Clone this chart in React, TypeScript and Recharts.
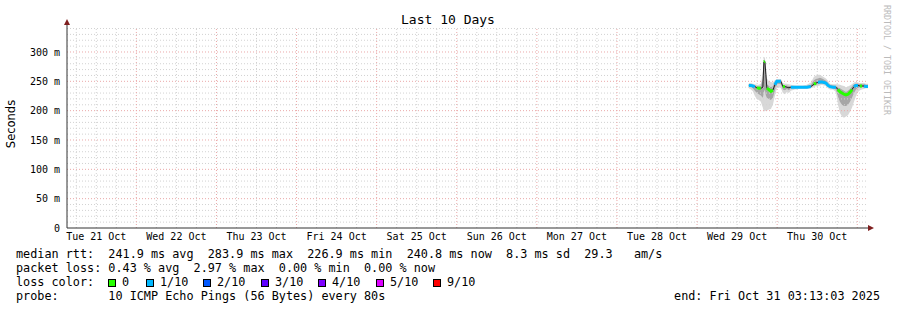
import React from 'react';
import { ComposedChart, Area, Line, XAxis, YAxis, ReferenceLine } from 'recharts';

// hours since graph start (Tue Oct 21 03:13:03)
const hours = [
  204.3, 204.9, 205.5, 206.1, 206.7, 207.3, 207.9, 208.5, 208.8, 209.1, 209.4, 209.7, 210.3, 210.9,
  211.5, 212.1, 212.7, 213.3, 213.9, 214.5, 215.1, 215.7, 216.3, 216.9, 218.1, 219.3, 220.5, 221.7,
  222.9, 223.8, 224.4, 225.0, 225.6, 226.2, 226.8, 227.4, 228.0, 228.6, 229.5, 230.4, 231.0, 231.6,
  232.2, 232.8, 233.4, 234.0, 234.6, 235.2, 235.8, 236.4, 237.0, 237.6, 238.2, 238.8, 239.4, 240.0,
];
const medianMs = [
  243, 243, 242, 241, 239, 238, 238, 240, 283, 284, 262, 238, 236, 233,
  235, 244, 250, 250, 250, 241, 241, 240, 239, 240, 240, 240, 240, 240,
  241, 245, 247, 248, 249, 249, 248, 247, 243, 241, 240, 240, 236, 232,
  230, 228, 227, 228, 231, 236, 241, 243, 243, 242, 242, 242, 241, 241,
];
const lossTenths = [
  1, 1, 1, 1, 0, 0, 0, 1, 0, 0, 1, 0, 0, 0,
  0, 1, 1, 1, 1, 0, 0, 1, 0, 1, 1, 1, 1, 1,
  1, 0, 0, 1, 1, 1, 1, 1, 1, 1, 1, 1, 0, 0,
  0, 0, 0, 0, 0, 0, 1, 1, 1, 0, 0, 1, 1, 1,
];
const minMs = [
  238, 236, 233, 225, 220, 218, 215, 205, 198, 200, 200, 200, 202, 203,
  210, 225, 238, 240, 238, 230, 228, 232, 230, 234, 236, 237, 237, 237,
  238, 240, 242, 242, 243, 244, 243, 242, 238, 236, 236, 232, 210, 196,
  190, 188, 190, 192, 198, 205, 215, 225, 232, 235, 236, 237, 238, 238,
];
const lowMs = [
  241, 240, 238, 234, 230, 228, 226, 222, 232, 236, 226, 222, 220, 218,
  222, 235, 245, 246, 245, 236, 235, 237, 235, 238, 238, 239, 239, 239,
  240, 243, 245, 245, 246, 246, 246, 245, 241, 239, 238, 236, 224, 215,
  210, 208, 208, 210, 215, 222, 230, 236, 239, 239, 240, 240, 240, 240,
];
const highMs = [
  245, 245, 244, 243, 242, 241, 242, 255, 285, 287, 266, 245, 242, 240,
  242, 248, 252, 252, 252, 244, 243, 243, 242, 242, 242, 242, 242, 242,
  244, 252, 254, 255, 256, 255, 253, 251, 247, 244, 243, 242, 240, 238,
  236, 234, 232, 234, 237, 241, 245, 246, 246, 245, 245, 245, 244, 244,
];
const maxMs = [
  247, 247, 246, 245, 244, 244, 246, 268, 292, 290, 276, 255, 250, 249,
  248, 252, 254, 254, 254, 247, 246, 246, 245, 244, 243, 243, 243, 244,
  248, 258, 260, 261, 261, 259, 257, 255, 251, 246, 245, 245, 245, 244,
  243, 242, 240, 241, 243, 245, 248, 249, 248, 247, 247, 247, 246, 246,
];

const dayLabels = [
  'Tue 21 Oct', 'Wed 22 Oct', 'Thu 23 Oct', 'Fri 24 Oct', 'Sat 25 Oct',
  'Sun 26 Oct', 'Mon 27 Oct', 'Tue 28 Oct', 'Wed 29 Oct', 'Thu 30 Oct',
];
const noonHours = [8.78, 32.78, 56.78, 80.78, 104.78, 128.78, 152.78, 176.78, 200.78, 224.78];
const midnightHours = [20.78, 44.78, 68.78, 92.78, 116.78, 140.78, 164.78, 188.78, 212.78, 236.78];
const yTicks = [0, 50, 100, 150, 200, 250, 300];

const lossLegend = [
  { label: '0', color: '#26ff00', box: 108, text: 122 },
  { label: '1/10', color: '#00b8ff', box: 146, text: 160 },
  { label: '2/10', color: '#0059ff', box: 203, text: 217 },
  { label: '3/10', color: '#5e00ff', box: 261, text: 275 },
  { label: '4/10', color: '#7e00ff', box: 318, text: 332 },
  { label: '5/10', color: '#dd00ff', box: 376, text: 390 },
  { label: '9/10', color: '#ff0000', box: 433, text: 447 },
];

const data = hours.map((t, i) => ({
  t,
  med: medianMs[i],
  green: lossTenths[i] === 0 ? medianMs[i] : null,
  blue: lossTenths[i] === 1 ? medianMs[i] : null,
  outer: [minMs[i], maxMs[i]],
  inner: [lowMs[i], highMs[i]],
}));

// minor grid: every 10 ms and every 6 hours
const minorY: number[] = [];
for (let v = 10; v <= 340; v += 10) if (v % 50 !== 0) minorY.push(v);
const minorX: number[] = [];
for (let h = 2.78; h < 240; h += 6) {
  const r = Math.round(h * 100) / 100;
  if (!midnightHours.includes(r)) minorX.push(r);
}
const majorY = yTicks.filter((v) => v > 0);

const Y_MAX = 342.6;
const mono = '"DejaVu Sans Mono", monospace';
const MINOR = '#d2d2d2';
const MAJOR = '#eaa8a8';

export default function App() {
  return (
    <div style={{ position: 'relative', width: 897, height: 310, background: '#fff', fontFamily: mono }}>
      <style>{'body{margin:0}'}</style>
      <ComposedChart
        width={897}
        height={250}
        data={data}
        margin={{ top: 27, right: 29, bottom: 0, left: 0 }}
        style={{ position: 'absolute', left: 0, top: 0 }}
      >
        <XAxis
          dataKey="t"
          type="number"
          domain={[0, 240]}
          ticks={noonHours}
          tickFormatter={(v: number) => dayLabels[noonHours.indexOf(v)] ?? ''}
          interval={0}
          height={22}
          tickLine={false}
          tickSize={3}
          tickMargin={2}
          axisLine={{ stroke: '#333' }}
          tick={{ fill: '#000', fontSize: 10, fontFamily: mono }}
        />
        <YAxis
          type="number"
          domain={[0, Y_MAX]}
          ticks={yTicks}
          width={67}
          tickLine={false}
          tickMargin={1}
          tickFormatter={(v: number) => (v === 0 ? '0' : `${v} m`)}
          axisLine={{ stroke: '#333' }}
          tick={{ fill: '#000', fontSize: 10, fontFamily: mono }}
          allowDataOverflow
        />
        {minorY.map((v) => (
          <ReferenceLine key={`my${v}`} y={v} stroke={MINOR} strokeDasharray="1 2" />
        ))}
        {minorX.map((h) => (
          <ReferenceLine key={`mx${h}`} x={h} stroke={MINOR} strokeDasharray="1 2" />
        ))}
        {majorY.map((v) => (
          <ReferenceLine key={`My${v}`} y={v} stroke={MAJOR} strokeDasharray="1 2" />
        ))}
        {midnightHours.map((h) => (
          <ReferenceLine key={`Mx${h}`} x={h} stroke={MAJOR} strokeDasharray="1 2" />
        ))}
        <Area dataKey="outer" type="linear" fill="#d8d8d8" fillOpacity={1} stroke="none" isAnimationActive={false} />
        <Area dataKey="inner" type="linear" fill="#a6a6a6" fillOpacity={1} stroke="none" isAnimationActive={false} />
        <Line dataKey="med" type="linear" stroke="#202020" strokeWidth={1} dot={false} isAnimationActive={false} />
        <Line dataKey="blue" type="linear" stroke="#00b8ff" strokeWidth={3} dot={false} connectNulls={false} isAnimationActive={false} />
        <Line dataKey="green" type="linear" stroke="#26ff00" strokeWidth={3} dot={false} connectNulls={false} isAnimationActive={false} />
      </ComposedChart>
      <svg width={897} height={310} style={{ position: 'absolute', left: 0, top: 0, pointerEvents: 'none' }}>
        <text x={448} y={24} textAnchor="middle" fontSize={13} fontFamily={mono} fill="#000">Last 10 Days</text>
        <text x={15} y={124} transform="rotate(-90 15 124)" textAnchor="middle" fontSize={11.5} fontFamily='"DejaVu Sans", sans-serif' fill="#000">Seconds</text>
        <text x={884} y={5} transform="rotate(90 884 5)" fontSize={8.3} fontFamily={mono} fill="#bbb">RRDTOOL / TOBI OETIKER</text>
        <line x1={67} y1={27} x2={67} y2={23} stroke="#333" />
        <polygon points="67,19 64,25 70,25" fill="#7f1f1f" />
        <line x1={868} y1={228} x2={870} y2={228} stroke="#333" />
        <polygon points="874,228 868,225 868,231" fill="#7f1f1f" />
        <g fontSize={11.8} fontFamily={mono} fill="#000">
          <text x={16} y={258} xmlSpace="preserve">median rtt:  241.9 ms avg  283.9 ms max  226.9 ms min  240.8 ms now  8.3 ms sd  29.3   am/s</text>
          <text x={16} y={272} xmlSpace="preserve">packet loss: 0.43 % avg  2.97 % max  0.00 % min  0.00 % now</text>
          <text x={16} y={286} xmlSpace="preserve">loss color:</text>
          {lossLegend.map((l) => (
            <g key={l.label}>
              <rect x={l.box + 0.5} y={279.5} width={7} height={7} fill={l.color} stroke="#000" strokeWidth={1} />
              <text x={l.text} y={286}>{l.label}</text>
            </g>
          ))}
          <text x={16} y={300} xmlSpace="preserve">probe:       10 ICMP Echo Pings (56 Bytes) every 80s</text>
          <text x={880} y={300} textAnchor="end" xmlSpace="preserve">end: Fri Oct 31 03:13:03 2025</text>
        </g>
      </svg>
    </div>
  );
}
